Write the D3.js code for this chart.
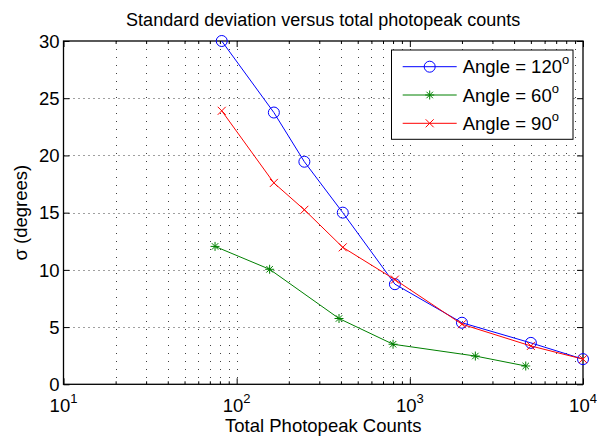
<!DOCTYPE html>
<html><head><meta charset="utf-8">
<script src="https://cdn.jsdelivr.net/npm/d3@7"></script>
<style>
html,body{margin:0;padding:0;background:#fff;}
svg text{font-family:"Liberation Sans",Arial,Helvetica,sans-serif;fill:#000;}
</style></head>
<body>
<svg id="chart" width="597" height="436"></svg>
<script>
// ---- data ----
const angle120X = [82, 164, 246, 410, 820, 2000, 5000, 10000];
const angle120Y = [30, 23.75, 19.45, 15.0, 8.75, 5.38, 3.62, 2.2];
const angle60X = [75, 155, 390, 800, 2390, 4670];
const angle60Y = [12.05, 10.05, 5.75, 3.5, 2.47, 1.6];
const angle90X = [82, 164, 246, 410, 820, 2000, 5000, 10000];
const angle90Y = [23.9, 17.6, 15.25, 11.97, 9.15, 5.25, 3.35, 2.2];
const seriesNames = ["Angle = 120", "Angle = 60", "Angle = 90"];
const yTicks = [0, 5, 10, 15, 20, 25, 30];
const xExponents = [1, 2, 3, 4];
const titleText = "Standard deviation versus total photopeak counts";
const xLabelText = "Total Photopeak Counts";
const yLabelText = "σ (degrees)";

const svg = d3.select("#chart");
const L = 63.5, R = 583, T = 41, B = 384.3;
const x = d3.scaleLog().domain([10, 10000]).range([L, R]);
const y = d3.scaleLinear().domain([0, 30]).range([B, T]);

const minorX = [];
for (let e = 1; e < 4; e++) for (let m = 2; m <= 9; m++) minorX.push(m * Math.pow(10, e));
const majorX = xExponents.map(e => Math.pow(10, e));

// grid
const g = svg.append("g");
g.selectAll(".vg").data(minorX.concat(majorX.slice(1, 3))).enter().append("line")
  .attr("x1", d => Math.round(x(d)) + 0.5).attr("x2", d => Math.round(x(d)) + 0.5)
  .attr("y1", T).attr("y2", B)
  .attr("stroke", "#000").attr("stroke-opacity", 0.75).attr("stroke-width", 1)
  .attr("stroke-dasharray", "1,7");
g.selectAll(".hg").data(yTicks.slice(1, -1)).enter().append("line")
  .attr("x1", L).attr("x2", R)
  .attr("y1", d => Math.round(y(d)) + 0.5).attr("y2", d => Math.round(y(d)) + 0.5)
  .attr("stroke", "#000").attr("stroke-opacity", 0.75).attr("stroke-width", 1)
  .attr("stroke-dasharray", "1,4");

// axes with inward ticks
const axB = d3.axisBottom(x).tickValues(majorX).tickSize(-6).tickFormat("");
const axT = d3.axisTop(x).tickValues(majorX).tickSize(-6).tickFormat("");
const axBm = d3.axisBottom(x).tickValues(minorX).tickSize(-3).tickFormat("");
const axTm = d3.axisTop(x).tickValues(minorX).tickSize(-3).tickFormat("");
const axL = d3.axisLeft(y).tickValues(yTicks).tickSize(-6).tickFormat("");
const axR = d3.axisRight(y).tickValues(yTicks).tickSize(-6).tickFormat("");
[[axB, `translate(0,${B})`], [axBm, `translate(0,${B})`], [axT, `translate(0,${T})`], [axTm, `translate(0,${T})`],
 [axL, `translate(${L},0)`], [axR, `translate(${R},0)`]].forEach(([a, tr]) => {
  const s = svg.append("g").attr("transform", tr).call(a.tickSizeOuter(0));
  s.selectAll("line").attr("stroke", "#000").attr("stroke-width", 1);
  s.select(".domain").remove();
});
svg.append("rect").attr("x", L).attr("y", T).attr("width", R - L).attr("height", B - T)
  .attr("fill", "none").attr("stroke", "#000").attr("stroke-width", 1.3);

// tick labels
const FS = 18.5;
svg.append("g").selectAll("text").data(yTicks).enter().append("text")
  .attr("x", L - 4).attr("y", d => y(d)).attr("dy", "0.36em")
  .attr("text-anchor", "end").attr("font-size", FS).text(d => d);
const xl = svg.append("g").selectAll("text").data(xExponents).enter().append("text")
  .attr("x", d => x(Math.pow(10, d))).attr("y", 412)
  .attr("text-anchor", "middle").attr("font-size", FS);
xl.append("tspan").text("10");
xl.append("tspan").attr("font-size", 13).attr("dy", -9).text(d => d);

// labels
svg.append("text").attr("x", (L + R) / 2).attr("y", 26).attr("text-anchor", "middle")
  .attr("font-size", 18).text(titleText);
svg.append("text").attr("x", (L + R) / 2).attr("y", 432).attr("text-anchor", "middle")
  .attr("font-size", FS).text(xLabelText);
svg.append("text").attr("transform", `translate(27,${(T + B) / 2}) rotate(-90)`)
  .attr("text-anchor", "middle").attr("font-size", FS).text(yLabelText);

// markers
function circleM(sel, c) {
  sel.append("circle").attr("r", 5.5).attr("fill", "none").attr("stroke", c).attr("stroke-width", 1);
}
function crossM(sel, c) {
  const s = 4;
  sel.append("path").attr("d", `M${-s},${-s}L${s},${s}M${-s},${s}L${s},${-s}`)
    .attr("stroke", c).attr("stroke-width", 1).attr("fill", "none");
}
function starM(sel, c) {
  const s = 4.5, d = s * 0.72;
  sel.append("path").attr("d", `M0,${-s}L0,${s}M${-s},0L${s},0M${-d},${-d}L${d},${d}M${-d},${d}L${d},${-d}`)
    .attr("stroke", c).attr("stroke-width", 1).attr("fill", "none");
}

const series = [
  { xs: angle120X, ys: angle120Y, color: "#0000ff", mark: circleM },
  { xs: angle60X, ys: angle60Y, color: "#008000", mark: starM },
  { xs: angle90X, ys: angle90Y, color: "#ff0000", mark: crossM }
];
const line = d3.line().x(d => x(d[0])).y(d => y(d[1]));
series.forEach(s => {
  const pts = s.xs.map((v, i) => [v, s.ys[i]]);
  svg.append("path").datum(pts).attr("d", line).attr("fill", "none")
    .attr("stroke", s.color).attr("stroke-width", 1);
  pts.forEach(p => {
    const gm = svg.append("g").attr("transform", `translate(${x(p[0])},${y(p[1])})`);
    s.mark(gm, s.color);
  });
});

// legend
const lg = svg.append("g");
lg.append("rect").attr("x", 391.5).attr("y", 50).attr("width", 181.5).attr("height", 89.3)
  .attr("fill", "#fff").attr("stroke", "#000").attr("stroke-width", 1);
const rowsY = [66.7, 95, 123.3];
series.forEach((s, i) => {
  lg.append("line").attr("x1", 402.7).attr("x2", 456.7).attr("y1", rowsY[i]).attr("y2", rowsY[i])
    .attr("stroke", s.color).attr("stroke-width", 1);
  const gm = lg.append("g").attr("transform", `translate(429.7,${rowsY[i]})`);
  s.mark(gm, s.color);
  const t = lg.append("text").attr("x", 462.7).attr("y", rowsY[i]).attr("dy", "0.36em")
    .attr("font-size", FS);
  t.append("tspan").text(seriesNames[i]);
  t.append("tspan").attr("font-size", 13).attr("dy", -9).text("o");
});
</script>
</body></html>
